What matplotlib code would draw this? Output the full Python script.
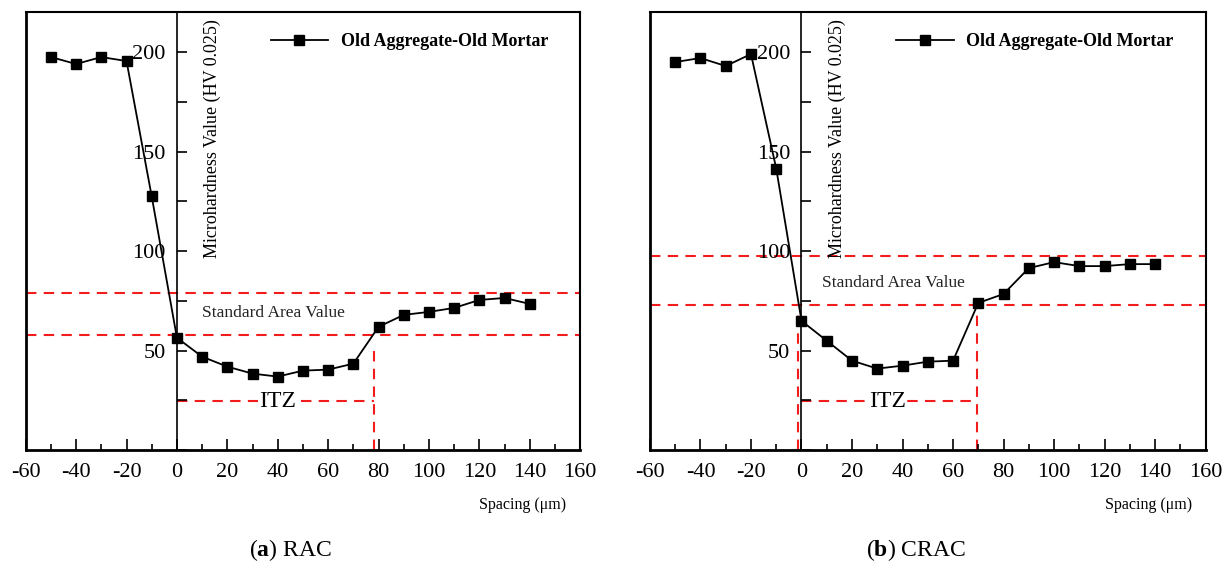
import numpy as np
import matplotlib
matplotlib.use("Agg")
import matplotlib.pyplot as plt
from matplotlib.ticker import MultipleLocator

plt.rcParams['font.family'] = ['Liberation Serif', 'DejaVu Serif']
plt.rcParams['mathtext.fontset'] = 'custom'
plt.rcParams['mathtext.rm'] = 'Liberation Serif'
plt.rcParams['mathtext.bf'] = 'Liberation Serif:bold'
plt.rcParams['axes.unicode_minus'] = False

# spacing (um)
spacing = [-50, -40, -30, -20, -10, 0, 10, 20, 30, 40, 50, 60, 70, 80, 90, 100, 110, 120, 130, 140]

# microhardness, HV 0.025
rac_hv = [197.5, 194, 197.5, 195.5, 127.5, 56.5, 47, 42, 38.5, 37, 40, 40.5, 43.5, 62, 68, 69.5, 71.5, 75.5, 76.5, 73.5]
crac_hv = [195, 197, 193, 199, 141.5, 65, 55, 45, 41, 42.5, 44.5, 45, 74, 78.5, 91.5, 94.5, 92.5, 92.5, 93.5, 93.5]

# standard area band and ITZ markers
rac_band = [58, 79]
crac_band = [73, 97.5]
rac_itz_x = [78]
crac_itz_x = [-1.5, 69.5]
rac_itz_top = [52]
crac_itz_top = [71, 73]
itz_y = 24.5
rac_itz_span = [0, 78]
crac_itz_span = [0, 69.5]

series_label = 'Old Aggregate-Old Mortar'
y_label = 'Microhardness Value (HV 0.025)'
x_label = 'Spacing (μm)'

red = '#f21c1c'
dash = (0, (5, 3.5))


def panel(ax, hv, band, vx, vtop, span, std_pos, itz_pos):
    ax.set_xlim(-60, 160)
    ax.set_ylim(0, 220)

    for b in band:
        ax.axhline(b, color=red, lw=1.5, ls=dash, zorder=1)
    for x0, top in zip(vx, vtop):
        ax.plot([x0, x0], [0, top], color=red, lw=1.5, ls=dash, zorder=1)
    ax.plot(span, [itz_y, itz_y], color=red, lw=1.5, ls=dash, zorder=1)

    ax.plot(spacing, hv, color='black', lw=1.3, marker='s', markersize=7,
            label=series_label, zorder=3)

    ax.text(itz_pos, itz_y, 'ITZ', fontsize=17, ha='center', va='center',
            bbox=dict(facecolor='white', edgecolor='none', pad=1), zorder=2)
    ax.text(std_pos[0], std_pos[1], 'Standard Area Value', fontsize=12.5,
            ha='left', va='center', color='#222222')

    # y axis drawn at x = 0, plus the frame edge at -60
    ax.spines['left'].set_position(('data', 0))
    ax.spines['left'].set_linewidth(1.2)
    ax.plot([0, 0], [0, 1], transform=ax.transAxes, color='black', lw=2, clip_on=False)
    ax.spines['bottom'].set_linewidth(2)
    ax.spines['top'].set_linewidth(1.5)
    ax.spines['right'].set_linewidth(1.5)

    ax.xaxis.set_major_locator(MultipleLocator(20))
    ax.xaxis.set_minor_locator(MultipleLocator(10))
    ax.yaxis.set_minor_locator(MultipleLocator(25))
    ax.set_yticks([50, 100, 150, 200])
    ax.tick_params(axis='x', which='major', direction='in', length=8, width=1.2,
                   labelsize=16, pad=9)
    ax.tick_params(axis='x', which='minor', direction='in', length=4, width=1.2)
    ax.tick_params(axis='y', which='both', direction='in', length=7, width=1.2,
                   labelsize=16, pad=8)

    ax.text(14, 0.985, y_label, transform=ax.get_xaxis_transform(), rotation=90,
            ha='center', va='top', fontsize=13)
    ax.text(0.975, -0.125, x_label, transform=ax.transAxes, ha='right',
            va='center', fontsize=11.5)

    ax.legend(loc='upper right', bbox_to_anchor=(0.972, 0.99), frameon=False,
              handlelength=3.2, handletextpad=0.7,
              prop={'family': 'Liberation Serif', 'weight': 'bold', 'size': 13})


fig = plt.figure(figsize=(12.24, 5.84), dpi=100)
ax1 = fig.add_axes([0.021, 0.229, 0.453, 0.750])
ax2 = fig.add_axes([0.531, 0.229, 0.454, 0.750])

panel(ax1, rac_hv, rac_band, rac_itz_x, rac_itz_top, rac_itz_span, (10, 69), 40)
panel(ax2, crac_hv, crac_band, crac_itz_x, crac_itz_top, crac_itz_span, (8, 84), 34)

fig.text(0.237, 0.058, r'($\mathbf{a}$) RAC', ha='center', va='center', fontsize=17)
fig.text(0.748, 0.058, r'($\mathbf{b}$) CRAC', ha='center', va='center', fontsize=17)

fig.savefig('out.png', dpi=100)
